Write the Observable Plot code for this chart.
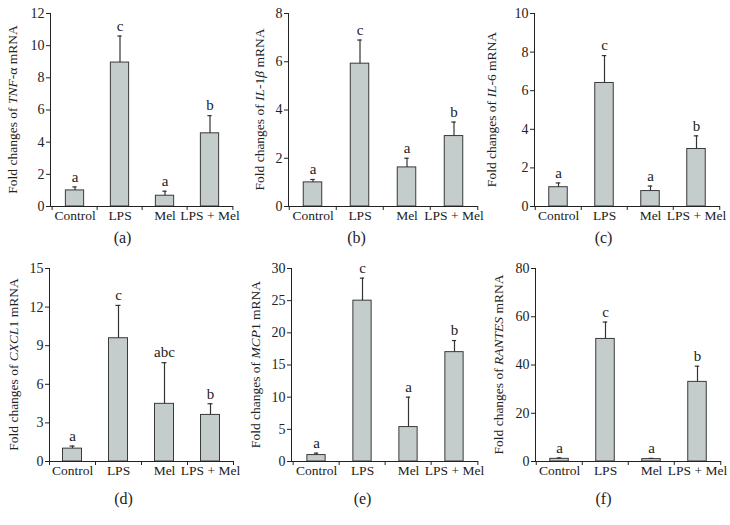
<!DOCTYPE html>
<html><head><meta charset="utf-8">
<script src="https://cdn.jsdelivr.net/npm/d3@7"></script>
<script src="https://cdn.jsdelivr.net/npm/@observablehq/plot@0.6"></script>
<style>
body{margin:0;background:#fff;}
#root{position:relative;width:730px;height:525px;background:#fff;font-family:"Liberation Serif",serif;overflow:hidden;}
.panel{position:absolute;}
</style></head><body><div id="root"></div>
<script>
// ---- data ----
const groups = ["Control", "LPS", "Mel", "LPS + Mel"];

const tnfMean = [1.0, 8.95, 0.67, 4.55];
const tnfErr  = [0.22, 1.65, 0.28, 1.1];
const tnfSig  = ["a", "c", "a", "b"];

const il1bMean = [1.0, 5.92, 1.62, 2.92];
const il1bErr  = [0.12, 0.98, 0.38, 0.58];
const il1bSig  = ["a", "c", "a", "b"];

const il6Mean = [1.0, 6.4, 0.8, 2.98];
const il6Err  = [0.22, 1.42, 0.26, 0.68];
const il6Sig  = ["a", "c", "a", "b"];

const cxcl1Mean = [1.0, 9.58, 4.48, 3.62];
const cxcl1Err  = [0.2, 2.55, 3.2, 0.87];
const cxcl1Sig  = ["a", "c", "abc", "b"];

const mcp1Mean = [1.0, 25.0, 5.35, 17.0];
const mcp1Err  = [0.3, 3.5, 4.65, 1.8];
const mcp1Sig  = ["a", "c", "a", "b"];

const rantesMean = [1.1, 50.8, 1.0, 33.0];
const rantesErr  = [0.4, 7.0, 0.3, 6.5];
const rantesSig  = ["a", "c", "a", "b"];

const yTicksA = [0, 2, 4, 6, 8, 10, 12];
const yTicksB = [0, 2, 4, 6, 8];
const yTicksC = [0, 2, 4, 6, 8, 10];
const yTicksD = [0, 3, 6, 9, 12, 15];
const yTicksE = [0, 5, 10, 15, 20, 25, 30];
const yTicksF = [0, 20, 40, 60, 80];

// ---- panel setup ----
const panels = [
  {tag: "(a)", mean: tnfMean, err: tnfErr, sig: tnfSig, ticks: yTicksA,
   label: [["Fold changes of ", 0], ["TNF", 1], ["-α mRNA", 0]],
   left: 0, top: 0, ml: 50, mr: 12, lx: 14, tagx: 122, tagdy: 36},
  {tag: "(b)", mean: il1bMean, err: il1bErr, sig: il1bSig, ticks: yTicksB,
   label: [["Fold changes of ", 0], ["IL", 1], ["-1", 0], ["β", 1], [" mRNA", 0]],
   left: 240, top: 0, ml: 48, mr: 7, lx: 21, tagx: 116, tagdy: 36},
  {tag: "(c)", mean: il6Mean, err: il6Err, sig: il6Sig, ticks: yTicksC,
   label: [["Fold changes of ", 0], ["IL", 1], ["-6 mRNA", 0]],
   left: 480, top: 0, ml: 54, mr: 5, lx: 13, tagx: 123, tagdy: 36},
  {tag: "(d)", mean: cxcl1Mean, err: cxcl1Err, sig: cxcl1Sig, ticks: yTicksD,
   label: [["Fold changes of ", 0], ["CXCL", 1], ["1 mRNA", 0]],
   left: 0, top: 255, ml: 49, mr: 12, lx: 15, tagx: 123, tagdy: 42},
  {tag: "(e)", mean: mcp1Mean, err: mcp1Err, sig: mcp1Sig, ticks: yTicksE,
   label: [["Fold changes of ", 0], ["MCP", 1], ["1 mRNA", 0]],
   left: 240, top: 255, ml: 51, mr: 7, lx: 17, tagx: 122, tagdy: 42},
  {tag: "(f)", mean: rantesMean, err: rantesErr, sig: rantesSig, ticks: yTicksF,
   label: [["Fold changes of ", 0], ["RANTES", 1], [" mRNA", 0]],
   left: 480, top: 255, ml: 55, mr: 4, lx: 20, tagx: 123, tagdy: 42}
];

const W = 245, PH = 193, MT = 13, MB = 56;
const FONT = "'Liberation Serif', 'Times New Roman', serif";
const INK = "#222222";
const root = document.getElementById("root");

for (const p of panels) {
  const data = groups.map((g, i) => ({g, mean: p.mean[i], top: p.mean[i] + p.err[i], sig: p.sig[i]}));
  const ymax = p.ticks[p.ticks.length - 1];
  const bw = (W - p.ml - p.mr) / groups.length;
  const barInset = (bw - 19) / 2;
  const capInset = (bw - 5) / 2;
  const tickLen = 4 * ymax / PH;

  const svg = Plot.plot({
    width: W, height: MT + PH + MB,
    marginTop: MT, marginBottom: MB, marginLeft: p.ml, marginRight: p.mr,
    style: {fontFamily: FONT, fontSize: "14px", color: INK, background: "transparent", overflow: "visible"},
    x: {domain: groups, padding: 0, axis: null},
    y: {domain: [0, ymax], ticks: p.ticks, tickSize: 4, tickPadding: 2, line: true, label: null},
    marks: [
      Plot.barY(data, {x: "g", y: "mean", fill: "#c4cdcc", stroke: "#3a3a3a", strokeWidth: 1,
                       insetLeft: barInset, insetRight: barInset}),
      Plot.ruleX(data, {x: "g", y1: "mean", y2: "top", stroke: "#333", strokeWidth: 1.2}),
      Plot.tickY(data, {x: "g", y: "top", stroke: "#333", strokeWidth: 1.2,
                        insetLeft: capInset, insetRight: capInset}),
      Plot.text(data, {x: "g", y: "top", text: "sig", dy: -10, fontSize: 15, fill: "#222"}),
      Plot.ruleY([0], {stroke: INK}),
      Plot.ruleX(groups, {x: d => d, y1: 0, y2: -tickLen, dx: -bw / 2, stroke: INK}),
      Plot.ruleX(groups.slice(-1), {x: d => d, y1: 0, y2: -tickLen, dx: bw / 2, stroke: INK}),
      Plot.text(groups, {x: d => d, frameAnchor: "bottom", dy: 13, fontSize: 13.5, fill: "#222"}),
      Plot.text([p.tag], {frameAnchor: "bottom-left", dx: p.tagx - p.ml, dy: p.tagdy, fontSize: 16, fill: "#222", textAnchor: "middle"})
    ]
  });

  // y label with italic gene symbols
  const t = d3.select(svg).append("text")
    .attr("transform", `translate(${p.lx},${MT + PH / 2}) rotate(-90)`)
    .attr("text-anchor", "middle")
    .attr("dominant-baseline", "middle")
    .attr("fill", INK)
    .style("font-family", FONT)
    .style("font-size", "13.5px");
  for (const [s, it] of p.label) {
    t.append("tspan").text(s).style("font-style", it ? "italic" : "normal");
  }

  const div = document.createElement("div");
  div.className = "panel";
  div.style.left = p.left + "px";
  div.style.top = p.top + "px";
  div.appendChild(svg);
  root.appendChild(div);
}
</script></body></html>
